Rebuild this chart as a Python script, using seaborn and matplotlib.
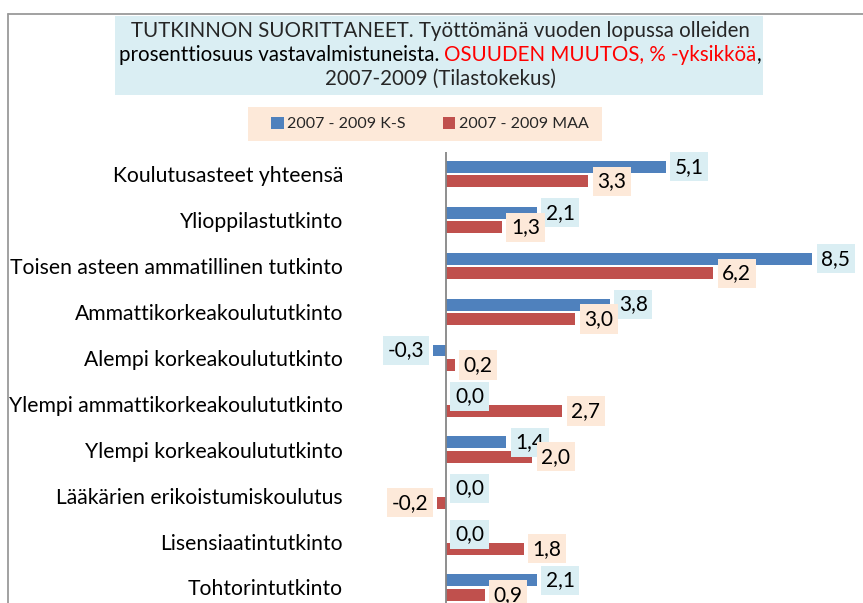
import numpy as np
import matplotlib.pyplot as plt
import seaborn as sns
import pandas as pd
from matplotlib.patches import Rectangle, Patch
from matplotlib.lines import Line2D

categories = ["Koulutusasteet yhteensä", "Ylioppilastutkinto",
              "Toisen asteen ammatillinen tutkinto", "Ammattikorkeakoulututkinto",
              "Alempi korkeakoulututkinto", "Ylempi ammattikorkeakoulututkinto",
              "Ylempi korkeakoulututkinto", "Lääkärien erikoistumiskoulutus",
              "Lisensiaatintutkinto", "Tohtorintutkinto"]
series_names = ["2007 - 2009 K-S", "2007 - 2009 MAA"]
ks_values = [5.1, 2.1, 8.5, 3.8, -0.3, 0.0, 1.4, 0.0, 0.0, 2.1]
maa_values = [3.3, 1.3, 6.2, 3.0, 0.2, 2.7, 2.0, -0.2, 1.8, 0.9]

bar_colors = ["#4F81BD", "#C0504D"]
box_colors = ["#DAEEF3", "#FDE9D9"]

df = pd.DataFrame({
    "cat": categories * 2,
    "val": ks_values + maa_values,
    "series": [series_names[0]] * 10 + [series_names[1]] * 10,
})

sns.set_style("white")
plt.rcParams["font.family"] = ["Lato", "DejaVu Sans"]

W, H = 863, 603
fig = plt.figure(figsize=(W / 100, H / 100), dpi=100)

def fx(px):
    return px / W

def fy(py):
    return 1 - py / H

# plot area in pixels
ax_left, ax_right, ax_top, ax_bottom = 355, 858, 152, 603
ax = fig.add_axes([fx(ax_left), fy(ax_bottom), fx(ax_right - ax_left), (ax_bottom - ax_top) / H])

sns.barplot(data=df, y="cat", x="val", hue="series", orient="h",
            palette=bar_colors, saturation=1, width=0.63, gap=0.18, linewidth=0,
            legend=False, ax=ax)

# scale: zero at x=446 px, 43.1 px per unit; categories 45.94 px apart starting at 174 px
ppu = 43.1
ax.set_xlim((ax_left - 446) / ppu, (ax_right - 446) / ppu)
ax.set_ylim((ax_bottom - 174) / 45.94, (ax_top - 174) / 45.94)
ax.axvline(0, color="#868686", lw=1.3)

for s in ax.spines.values():
    s.set_visible(False)
ax.set_xticks([])
ax.set_xlabel("")
ax.set_ylabel("")
ax.tick_params(axis="y", length=0, pad=8.6, labelsize=15.2, labelcolor="black")

# value labels
for i, cont in enumerate(ax.containers):
    for bar in cont:
        v = round(bar.get_x() + bar.get_width(), 1) if bar.get_x() >= 0 else round(bar.get_x(), 1)
        yc = bar.get_y() + bar.get_height() / 2
        txt = f"{v:.1f}".replace(".", ",")
        if v < 0:
            off, ha = -6.5, "right"
        else:
            off, ha = 6.5, "left"
        ax.annotate(txt, xy=(v, yc), xytext=(off, 0), textcoords="offset points",
                    ha=ha, va="center", fontsize=15, color="black",
                    bbox=dict(boxstyle="square,pad=0.22", fc=box_colors[i], ec="none"))

# outer frame
fig.add_artist(Line2D([fx(8), 1], [fy(14), fy(14)], color="#9A9A9A", lw=1.3))
fig.add_artist(Line2D([fx(8), fx(8)], [fy(14), 0], color="#9A9A9A", lw=1.3))

# title box
fig.add_artist(Rectangle((fx(115), fy(95)), fx(763 - 115), (95 - 16) / H,
                         facecolor="#DAEEF3", edgecolor="none"))
tsize = 14.8
cx = fx(440)
fig.text(cx, fy(31), "TUTKINNON SUORITTANEET. Työttömänä vuoden lopussa olleiden",
         ha="center", va="center", fontsize=tsize)
fig.text(cx, fy(79), "2007-2009 (Tilastokekus)", ha="center", va="center", fontsize=tsize)

parts = [("prosenttiosuus vastavalmistuneista.", "black"),
         ("OSUUDEN MUUTOS, % -yksikköä", "#FF0000"),
         (",", "black")]
fig.canvas.draw()
r = fig.canvas.get_renderer()

def text_w(s):
    t = fig.text(0, 0, s, fontsize=tsize)
    w = t.get_window_extent(r).width
    t.remove()
    return w

space = text_w("x x") - text_w("xx")
widths = [text_w(p[0]) for p in parts]
total = widths[0] + space + widths[1] + widths[2]
x = 440 - total / 2
gaps = [space, 0, 0]
for (s, c), w, g in zip(parts, widths, gaps):
    fig.text(fx(x), fy(55), s, ha="left", va="center", fontsize=tsize, color=c)
    x += w + g

# legend box
fig.add_artist(Rectangle((fx(248), fy(141)), fx(602 - 248), (141 - 107) / H,
                         facecolor="#FDE9D9", edgecolor="none"))
handles = [Patch(facecolor=c, edgecolor="none") for c in bar_colors]
fig.legend(handles, series_names, loc="center", bbox_to_anchor=(fx(430), fy(124)),
           ncol=2, frameon=False, fontsize=11.5, handlelength=0.8, handleheight=0.8,
           handletextpad=0.2, columnspacing=2.3)

plt.savefig("out.png", dpi=100)
